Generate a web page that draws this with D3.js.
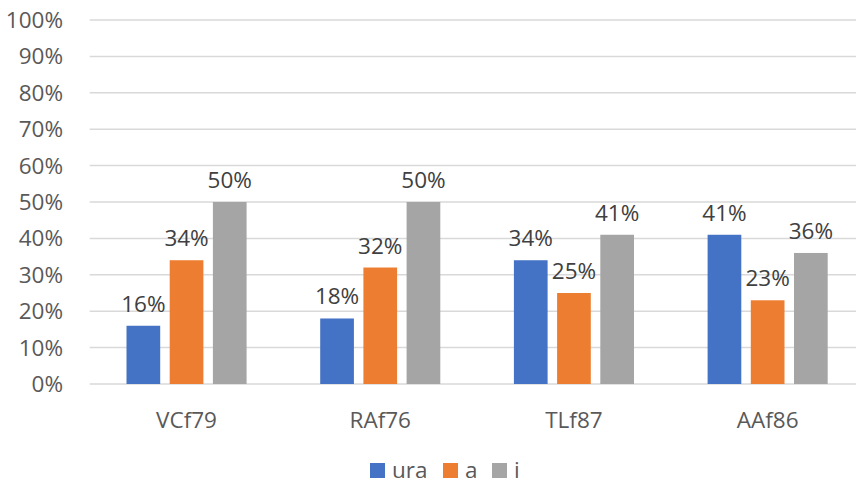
<!DOCTYPE html>
<html><head><meta charset="utf-8">
<script src="https://cdn.jsdelivr.net/npm/d3@7"></script>
<style>
html,body{margin:0;padding:0;background:#fff;}
svg{display:block;}
text{font-family:"Open Sans", "Noto Sans", sans-serif;}
</style></head>
<body>
<svg id="chart" width="856" height="484"></svg>
<script>
const categories = ["VCf79", "RAf76", "TLf87", "AAf86"];
const seriesNames = ["ura", "a", "i"];
const ura = [16, 18, 34, 41];
const a = [34, 32, 25, 23];
const iVals = [50, 50, 41, 36];
const yTicks = [0, 10, 20, 30, 40, 50, 60, 70, 80, 90, 100];
const colors = ["#4472C4", "#ED7D31", "#A5A5A5"];
const seriesValues = [ura, a, iVals];

(function () {
const svg = d3.select("#chart");
const pLeft = 89.7, pRight = 864.5, pTop = 20, pBottom = 384;
const fs = 22.5;

const x0 = d3.scaleBand().domain(categories).range([pLeft, pRight]).paddingInner(0.38).paddingOuter(0.19);
const x1 = d3.scaleBand().domain(seriesNames).range([0, x0.bandwidth()]).paddingInner(0.22).paddingOuter(0);
const y = d3.scaleLinear().domain([0, 100]).range([pBottom, pTop]);

svg.append("g").selectAll("line").data(yTicks).join("line")
  .attr("x1", pLeft).attr("x2", 856)
  .attr("y1", d => y(d)).attr("y2", d => y(d))
  .attr("stroke", "#d9d9d9").attr("stroke-width", 1.5);

svg.append("g").selectAll("text").data(yTicks).join("text")
  .attr("x", 63).attr("y", d => y(d) + 8)
  .attr("text-anchor", "end").attr("fill", "#595959").attr("font-size", fs)
  .text(d => d + "%");

const groups = svg.append("g").selectAll("g").data(categories).join("g")
  .attr("transform", d => `translate(${x0(d)},0)`);

groups.each(function (cat, ci) {
  const g = d3.select(this);
  seriesNames.forEach((s, si) => {
    const v = seriesValues[si][ci];
    g.append("rect")
      .attr("x", x1(s)).attr("width", x1.bandwidth())
      .attr("y", y(v)).attr("height", y(0) - y(v))
      .attr("fill", colors[si]);
    g.append("text")
      .attr("x", x1(s) + x1.bandwidth() / 2).attr("y", y(v) - 14)
      .attr("text-anchor", "middle").attr("fill", "#404040").attr("font-size", fs)
      .text(v + "%");
  });
});

svg.append("g").selectAll("text").data(categories).join("text")
  .attr("x", d => x0(d) + x0.bandwidth() / 2).attr("y", 428)
  .attr("text-anchor", "middle").attr("fill", "#595959").attr("font-size", fs)
  .text(d => d);

const legendX = [370, 443, 492];
const lg = svg.append("g");
seriesNames.forEach((n, k) => {
  lg.append("rect").attr("x", legendX[k]).attr("y", 463).attr("width", 15).attr("height", 15).attr("fill", colors[k]);
  lg.append("text").attr("x", legendX[k] + 22).attr("y", 477.5).attr("fill", "#595959").attr("font-size", fs).text(n);
});
})();
</script>
</body></html>
